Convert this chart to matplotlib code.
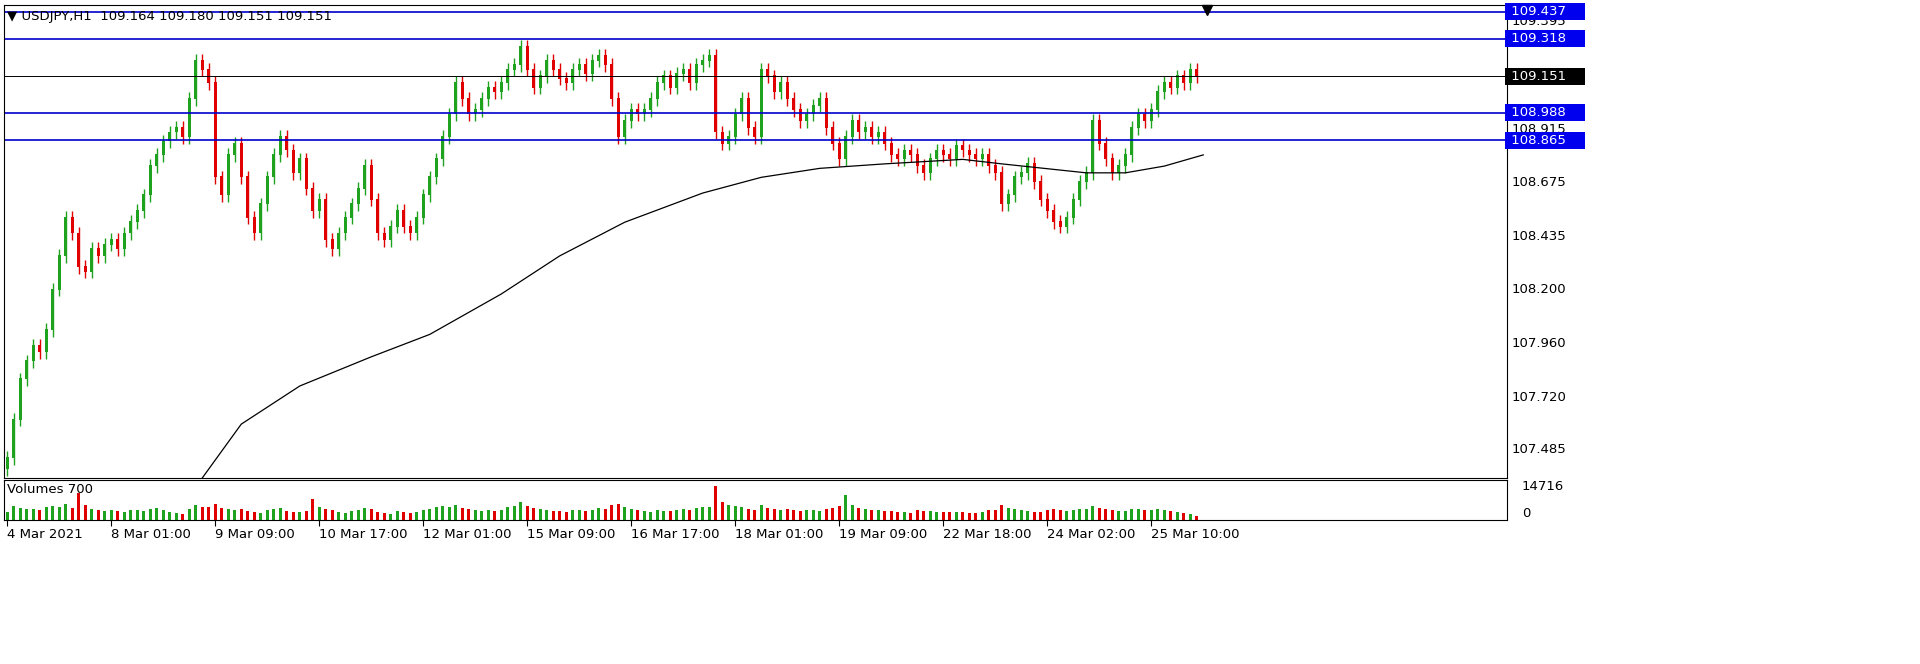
import numpy as np
import matplotlib.pyplot as plt
import matplotlib.transforms as mtransforms

# 2-hour candles, closes
closes = [
    107.45, 107.62, 107.80, 107.88, 107.95, 107.92, 108.02, 108.20, 108.35, 108.52,
    108.45, 108.30, 108.28, 108.38, 108.35, 108.40, 108.42, 108.38, 108.45, 108.50,
    108.55, 108.62, 108.75, 108.80, 108.86, 108.90, 108.92, 108.88, 109.05, 109.22,
    109.18, 109.12, 108.70, 108.62, 108.80, 108.85, 108.70, 108.52, 108.45, 108.58,
    108.70, 108.80, 108.88, 108.82, 108.72, 108.78, 108.65, 108.55, 108.60, 108.42,
    108.38, 108.45, 108.52, 108.58, 108.65, 108.75, 108.60, 108.45, 108.42, 108.48,
    108.55, 108.48, 108.45, 108.52, 108.62, 108.70, 108.78, 108.88, 108.98, 109.12,
    109.05, 108.98, 109.00, 109.05, 109.10, 109.08, 109.12, 109.18, 109.20, 109.28,
    109.18, 109.10, 109.15, 109.22, 109.18, 109.14, 109.12, 109.18, 109.20, 109.16,
    109.22, 109.24, 109.20, 109.05, 108.88, 108.95, 109.00, 108.98, 109.00, 109.05,
    109.12, 109.15, 109.10, 109.16, 109.18, 109.12, 109.20, 109.22, 109.24, 108.90,
    108.85, 108.88, 108.98, 109.05, 108.92, 108.88, 109.18, 109.15, 109.08, 109.12,
    109.05, 109.00, 108.95, 108.98, 109.02, 109.05, 108.92, 108.85, 108.78, 108.88,
    108.95, 108.90, 108.92, 108.88, 108.90, 108.85, 108.80, 108.78, 108.82, 108.80,
    108.75, 108.72, 108.78, 108.82, 108.80, 108.78, 108.84, 108.82, 108.80, 108.78,
    108.80, 108.75, 108.72, 108.58, 108.62, 108.70, 108.72, 108.76, 108.68, 108.60,
    108.55, 108.50, 108.48, 108.52, 108.60, 108.68, 108.72, 108.95, 108.85, 108.78,
    108.72, 108.75, 108.80, 108.92, 108.98, 108.95, 109.00, 109.08, 109.12, 109.10,
    109.15, 109.12, 109.18, 109.151,
]
first_open = 107.40

volumes = [
    3500, 6000, 5200, 4800, 5000, 4200, 5500, 6200, 5800, 7000,
    5200, 12000, 6500, 5000, 4200, 3800, 4500, 4000, 3600, 4200,
    4500, 3800, 4800, 5200, 4200, 3600, 3000, 2600, 4800, 6500,
    5500, 5800, 7000, 5200, 4800, 4200, 5000, 3800, 3400, 3200,
    4200, 4600, 5200, 4000, 3500, 3300, 3800, 9000, 5500, 4800,
    4200, 3600, 3200, 3800, 4500, 5200, 4800, 3600, 3000, 2800,
    4000, 3600, 3200, 3500, 4200, 4800, 5600, 6000, 5800, 6500,
    5200, 4800, 4400, 4000, 4200, 3800, 4200, 5800, 6200, 8000,
    6200, 5200, 4600, 4200, 4000, 3800, 3600, 4200, 4400, 3800,
    4500, 5200, 5000, 6500, 7200, 5800, 4800, 4200, 3800, 3500,
    4200, 4000, 3800, 4400, 4800, 4200, 5200, 5600, 5800, 14716,
    8000, 6500, 6000, 5500, 5000, 4500, 6500, 5200, 4800, 4200,
    4600, 4200, 4000, 4400, 4200, 3800, 4800, 5200, 6000, 11000,
    6500, 5200, 4800, 4400, 4200, 4000, 3800, 3600, 3400, 3200,
    4200, 4000, 3800, 3600, 3500, 3300, 3600, 3400, 3200, 3000,
    3600, 4200, 4400, 6500, 5200, 4600, 4200, 3800, 3600, 3400,
    4200, 4800, 4400, 4000, 4200, 4600, 4800, 6200, 5400, 4800,
    4200, 4000, 3800, 4600, 4800, 4400, 4200, 4600, 4200, 3800,
    3400, 3000, 2600, 1800,
]

# moving average anchors (candle index, price)
ma_idx = [30, 36, 45, 56, 65, 76, 85, 95, 107, 116, 125, 135, 147, 153, 166, 172, 178, 184]
ma_val = [107.36, 107.60, 107.77, 107.90, 108.00, 108.18, 108.35, 108.50, 108.63, 108.70,
          108.74, 108.76, 108.78, 108.76, 108.72, 108.72, 108.75, 108.80]

hlines_blue = [109.437, 109.318, 108.988, 108.865]
current_price = 109.151
ytick_vals = [109.395, 108.915, 108.675, 108.435, 108.200, 107.960, 107.720, 107.485]
xtick_labels = ["4 Mar 2021", "8 Mar 01:00", "9 Mar 09:00", "10 Mar 17:00", "12 Mar 01:00",
                "15 Mar 09:00", "16 Mar 17:00", "18 Mar 01:00", "19 Mar 09:00",
                "22 Mar 18:00", "24 Mar 02:00", "25 Mar 10:00"]

W, H = 1920, 664
fig = plt.figure(figsize=(W / 100, H / 100), dpi=100)
L, R = 4 / W, 1507 / W
ax = fig.add_axes([L, 1 - 478 / H, R - L, (478 - 5) / H])
axv = fig.add_axes([L, 1 - 520 / H, R - L, (520 - 480) / H])

c = np.array(closes)
o = np.concatenate([[first_open], c[:-1]])
x = np.arange(len(c))
hi = np.maximum(o, c) + 0.03
lo = np.minimum(o, c) - 0.03
up = c >= o
green, red = "#1fa31f", "#e00000"
cols = np.where(up, green, red)

ax.vlines(x, lo, hi, colors=cols, lw=1)
ax.bar(x, np.abs(c - o) + 0.004, bottom=np.minimum(o, c), width=0.45, color=cols)
ax.plot(ma_idx, ma_val, color="black", lw=0.9)

for v in hlines_blue:
    ax.axhline(v, color="#0000cc", lw=1.2)
ax.axhline(current_price, color="black", lw=0.7)

xmax = (1507 - 4) / 6.5 - 0.5
ax.set_xlim(-0.5, xmax)
ax.set_ylim(107.36, 109.468)
ax.set_xticks([])
ax.set_yticks([])

tr = mtransforms.blended_transform_factory(ax.transAxes, ax.transData)
for v in ytick_vals:
    ax.text(1.003, v, f"{v:.3f}", transform=tr, va="center", ha="left", fontsize=9.5)
for v in hlines_blue:
    ax.text(1.0, v, f" {v:.3f}    ", transform=tr, va="center", ha="left", fontsize=9.5,
            color="white", bbox=dict(boxstyle="square,pad=0.15", fc="#0000ee", ec="none"),
            clip_on=False)
ax.text(1.0, current_price, f" {current_price:.3f}    ", transform=tr, va="center", ha="left",
        fontsize=9.5, color="white", bbox=dict(boxstyle="square,pad=0.15", fc="black", ec="none"),
        clip_on=False)

ax.text(0.002, 0.99, "▼ USDJPY,H1  109.164 109.180 109.151 109.151", transform=ax.transAxes,
        va="top", ha="left", fontsize=9.5)
ax.plot([184.5], [109.445], marker="v", color="black", markersize=7, clip_on=False)

axv.bar(x, volumes, width=0.4, color=cols)
axv.set_xlim(-0.5, xmax)
axv.set_ylim(0, 17500)
axv.set_yticks([])
axv.text(0.002, 0.93, "Volumes 700", transform=axv.transAxes, va="top", ha="left", fontsize=9.5)
axv.text(1.01, 14716, "14716", transform=mtransforms.blended_transform_factory(axv.transAxes, axv.transData),
         va="center", fontsize=9.5)
axv.text(1.01, 0, "0", transform=mtransforms.blended_transform_factory(axv.transAxes, axv.transData),
         va="bottom", fontsize=9.5)
axv.set_xticks(np.arange(len(xtick_labels)) * 16)
axv.set_xticklabels(xtick_labels, ha="left", fontsize=9.5)
axv.tick_params(axis="x", length=4, pad=2)

for a in (ax, axv):
    for s in a.spines.values():
        s.set_linewidth(0.8)

fig.savefig("out.png", dpi=100)
